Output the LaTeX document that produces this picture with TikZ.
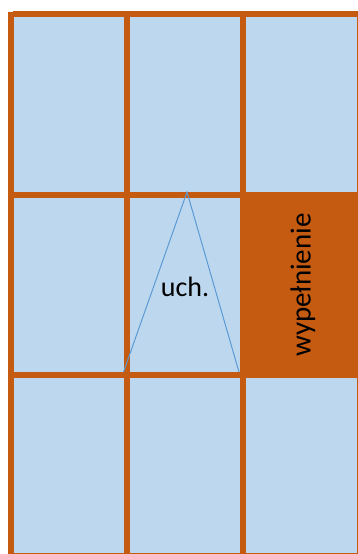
\documentclass[tikz,border=0pt]{standalone}
\usepackage{fontspec}
\setmainfont{Carlito}
\usetikzlibrary{calc}
\definecolor{cellblue}{HTML}{BDD7EE}
\definecolor{frameorange}{HTML}{C55A11}
\definecolor{lineblue}{HTML}{5B9BD5}

\begin{document}
\begin{tikzpicture}[x=1pt,y=-1pt]
\useasboundingbox (0,0) rectangle (358,554);
\coordinate (A) at (187,192);
\coordinate (B) at (123.5,372);
\coordinate (C) at (239,372);
\fill[cellblue] (11,14) rectangle (362,560);
\fill[frameorange] (240,192) rectangle (362,378);
\foreach \x in {11,127,243,360}
	\draw[frameorange,line width=6pt] (\x,12) -- (\x,560);
\foreach \y in {14,195,375,556}
	\draw[frameorange,line width=6pt] (13,\y) -- (362,\y);

\draw [line width=1pt,lineblue] (B) -- (A) -- (C);
\node (uch) at (185,287) {\fontsize{28}{33}\selectfont uch.};
\node [rotate=90] (wyp) at (303,285) {\fontsize{29}{34}\selectfont wypełnienie};
\end{tikzpicture}
\end{document}
